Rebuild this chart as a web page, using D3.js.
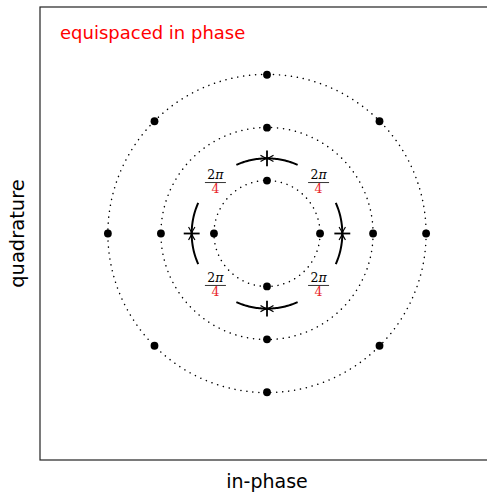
<!DOCTYPE html>
<meta charset="utf-8">
<script src="https://d3js.org/d3.v7.min.js"></script>
<style>
  body { margin: 0; background: #fff; }
</style>
<div id="chart"></div>
<script>

// constellation data: ring radii and the phases (degrees) of the points on each ring
var ringRadii = [1, 2, 3];
var ringPhases = [
    [0, 90, 180, 270],
    [0, 90, 180, 270],
    [0, 45, 90, 135, 180, 225, 270, 315]
];
// phase separation markers between the inner and middle ring
var markRadius = 1.42;
var markPhases = [0, 90, 180, 270];
var labelPhases = [45, 135, 225, 315];
var labelNum = "2";
var labelDen = "4";
var title = "equispaced in phase";

var width = 487,
    height = 494;

var svg = d3.select("#chart")
    .append("svg")
        .attr("width", width)
        .attr("height", height);

var x = d3.scaleLinear().domain([-4.28, 4.28]).range([40, 494]);
var y = d3.scaleLinear().domain([-4.28, 4.28]).range([460, 7]);
var unit = x(1) - x(0);

function px(r, deg) { return x(r * Math.cos(deg * Math.PI / 180)); }
function py(r, deg) { return y(r * Math.sin(deg * Math.PI / 180)); }

// arrow head
svg.append("defs").append("marker")
    .attr("id", "head")
    .attr("viewBox", "-9 -5 10 10")
    .attr("refX", 0).attr("refY", 0)
    .attr("markerWidth", 10).attr("markerHeight", 10)
    .attr("markerUnits", "userSpaceOnUse")
    .attr("orient", "auto")
  .append("path")
    .attr("d", "M-6.5,-3.2 Q-2.5,-0.6 0,0 Q-2.5,0.6 -6.5,3.2")
    .attr("fill", "none")
    .attr("stroke", "black")
    .attr("stroke-width", 1.2);

// frame
svg.append("rect")
    .attr("x", x(-4.28)).attr("y", y(4.28))
    .attr("width", x(4.28) - x(-4.28))
    .attr("height", y(-4.28) - y(4.28))
    .attr("fill", "none")
    .attr("stroke", "#222")
    .attr("stroke-width", 1.2);

// dotted rings
svg.selectAll(".ring")
    .data(ringRadii)
    .enter().append("circle")
    .attr("class", "ring")
    .attr("cx", x(0)).attr("cy", y(0))
    .attr("r", function(d) { return d * unit; })
    .attr("fill", "none")
    .attr("stroke", "black")
    .attr("stroke-width", 1.5)
    .attr("stroke-linecap", "round")
    .attr("stroke-dasharray", "0.1 5.9");

// constellation points
var pts = [];
ringRadii.forEach(function(r, i) {
    ringPhases[i].forEach(function(a) { pts.push({r: r, a: a}); });
});
svg.selectAll(".pt")
    .data(pts)
    .enter().append("circle")
    .attr("class", "pt")
    .attr("cx", function(d) { return px(d.r, d.a); })
    .attr("cy", function(d) { return py(d.r, d.a); })
    .attr("r", 3.9)
    .attr("fill", "black");

// arcs with arrows pointing at each separation tick
var arcLine = d3.line();
markPhases.forEach(function(a) {
    [-1, 1].forEach(function(s) {
        var p = d3.range(0, 25).map(function(k) {
            var deg = a + s * (24 - k);
            return [px(markRadius, deg), py(markRadius, deg)];
        });
        svg.append("path")
            .attr("d", arcLine(p))
            .attr("fill", "none")
            .attr("stroke", "black")
            .attr("stroke-width", 2)
            .attr("marker-end", "url(#head)");
    });
    svg.append("line")
        .attr("x1", px(markRadius - 0.15, a)).attr("y1", py(markRadius - 0.15, a))
        .attr("x2", px(markRadius + 0.15, a)).attr("y2", py(markRadius + 0.15, a))
        .attr("stroke", "black")
        .attr("stroke-width", 1.8);
});

// 2π/4 labels
var lab = svg.selectAll(".lab")
    .data(labelPhases)
    .enter().append("g")
    .attr("class", "lab")
    .attr("transform", function(d) {
        return "translate(" + px(1.375, d) + "," + py(1.375, d) + ")";
    });
var num = lab.append("text")
    .attr("y", -3)
    .attr("text-anchor", "middle")
    .style("font-family", "'DejaVu Serif', serif")
    .style("font-size", "12.5px")
    .attr("fill", "black");
num.append("tspan").text(labelNum);
num.append("tspan").style("font-style", "italic").text("π");
lab.append("line")
    .attr("x1", -10.5).attr("x2", 10.5)
    .attr("y1", 0.5).attr("y2", 0.5)
    .attr("stroke", "black")
    .attr("stroke-width", 0.8);
lab.append("text")
    .attr("y", 10.8)
    .attr("text-anchor", "middle")
    .style("font-family", "'DejaVu Serif', serif")
    .style("font-size", "12.5px")
    .attr("fill", "#e8242a")
    .text(labelDen);

// title and axis labels
svg.append("text")
    .attr("x", 60).attr("y", 39)
    .style("font-family", "'DejaVu Sans', sans-serif")
    .style("font-size", "18px")
    .attr("fill", "red")
    .text(title);

svg.append("text")
    .attr("x", x(0)).attr("y", 488)
    .attr("text-anchor", "middle")
    .style("font-family", "'DejaVu Sans', sans-serif")
    .style("font-size", "19px")
    .text("in-phase");

svg.append("text")
    .attr("transform", "translate(24," + y(0) + ") rotate(-90)")
    .attr("text-anchor", "middle")
    .style("font-family", "'DejaVu Sans', sans-serif")
    .style("font-size", "19.5px")
    .text("quadrature");

</script>
